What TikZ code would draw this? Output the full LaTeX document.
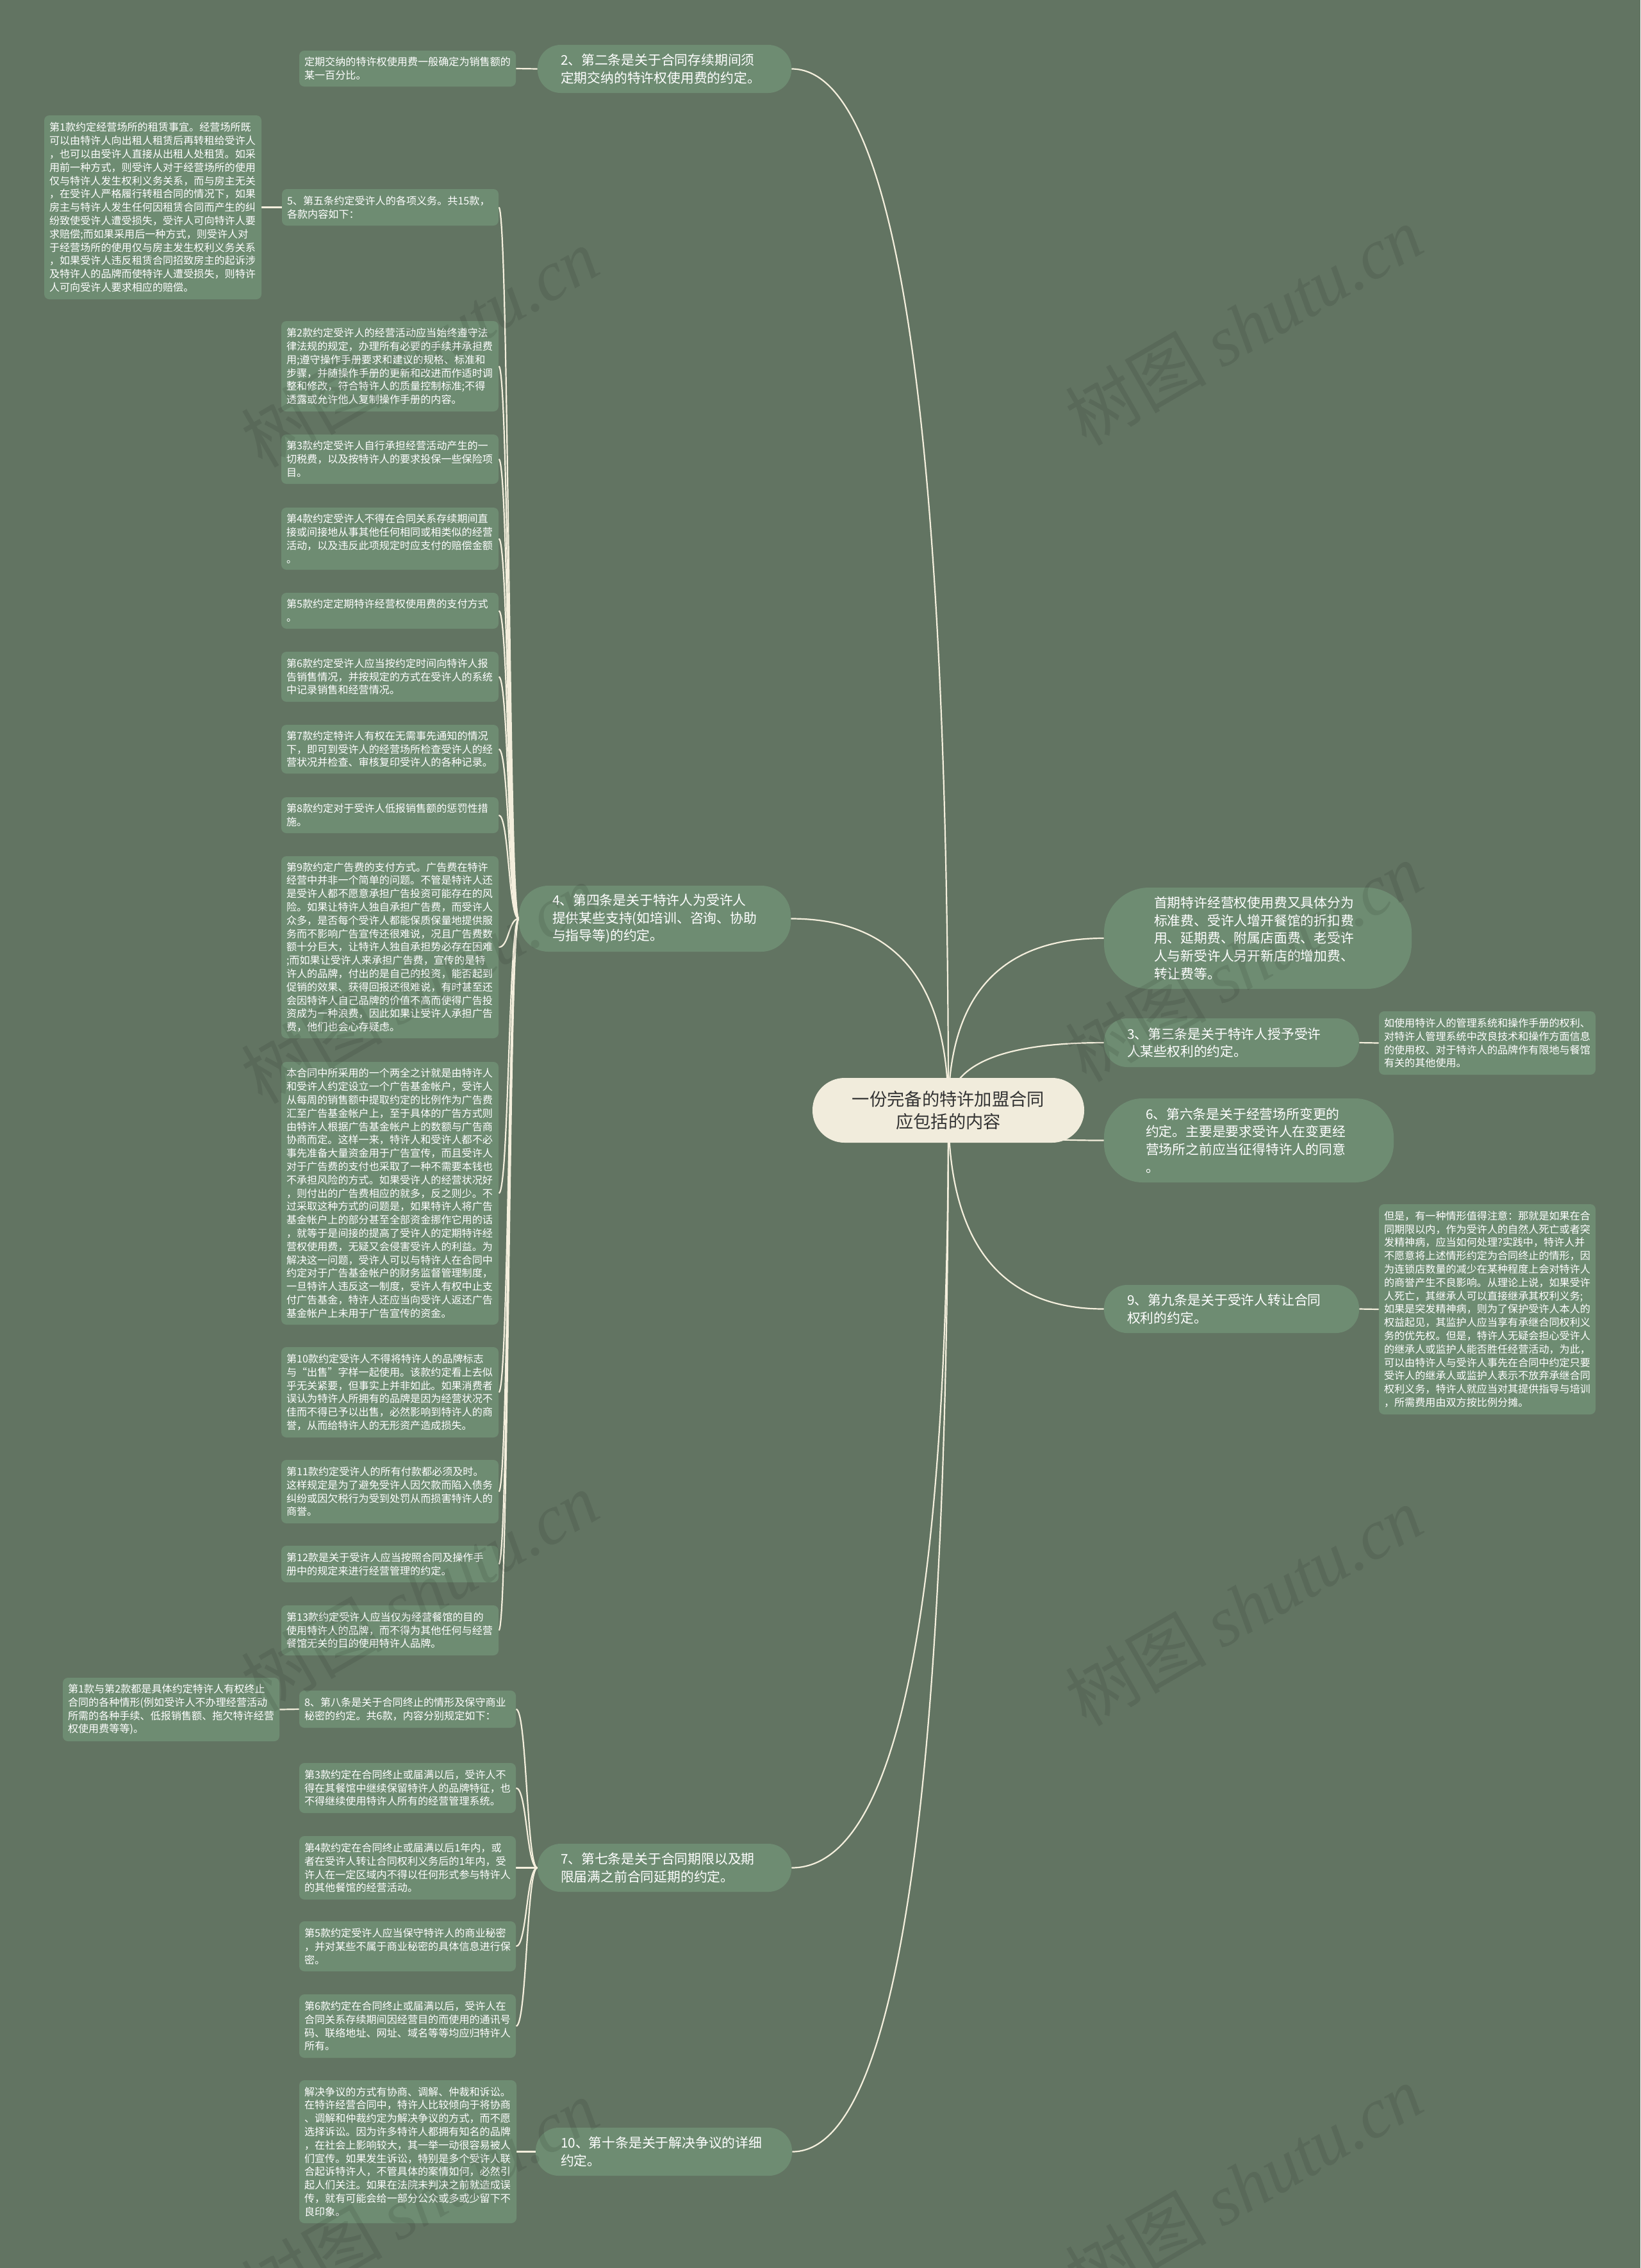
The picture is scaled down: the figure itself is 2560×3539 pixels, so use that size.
\documentclass[tikz,border=0pt]{standalone}
\usepackage{fontspec}
\setmainfont{Noto Sans CJK SC}
\newfontfamily\wmserif{Liberation Serif}
\usetikzlibrary{calc}
\definecolor{bgc}{HTML}{627462}
\definecolor{boxc}{HTML}{6E8C72}
\definecolor{rootc}{HTML}{F1ECDC}
\definecolor{linec}{HTML}{F4EFDD}
\definecolor{roottext}{HTML}{333333}
\pgfdeclarelayer{bglayer}
\pgfsetlayers{bglayer,main}
\tikzset{
  leafbox/.style={fill=boxc, text=white, align=left, inner xsep=4pt, inner ysep=2pt,
    rounded corners=4pt, font=\fontsize{8.05pt}{10.4pt}\selectfont},
  mainbox/.style={fill=boxc, text=white, align=left, inner ysep=2pt,
    font=\fontsize{10.4pt}{13.85pt}\selectfont},
  rootbox/.style={fill=rootc, text=roottext, align=center, inner sep=2pt,
    minimum width=212pt, minimum height=50.5pt, rounded corners=25pt,
    font=\fontsize{13.65pt}{17.5pt}\selectfont},
  conn/.style={draw=linec, line width=1.1pt},
  wm/.style={text=black, opacity=0.09, font=\fontsize{55pt}{60pt}\selectfont, rotate=30}
}
\newcommand\leafat[6]{%
  \pgfmathsetmacro\lw{(#4-#2)*0.5}%
  \pgfmathsetmacro\lh{(#5-#3)*0.5}%
  \pgfmathsetmacro\ltw{(#4-#2)*0.5-8}%
  \node[leafbox, minimum width=\lw pt, minimum height=\lh pt, text width=\ltw pt] (#1) at ({(#2+#4)/2},{(#3+#5)/2}) {#6};}
\newcommand\mainat[8]{%
  \pgfmathsetmacro\mw{(#4-#2)*0.5}%
  \pgfmathsetmacro\mh{(#5-#3)*0.5}%
  \pgfmathsetmacro\mtw{(#4-#2)*0.5-#6}%
  \pgfmathsetmacro\mpad{#6*0.5}%
  \pgfmathsetmacro\mr{#7*0.5}%
  \node[mainbox, minimum width=\mw pt, minimum height=\mh pt, text width=\mtw pt, inner xsep=\mpad pt, rounded corners=\mr pt] (#1) at ({(#2+#4)/2},{(#3+#5)/2}) {#8};}
\newcommand\rootcurve[1]{%
  \coordinate (qc) at (root.center |- #1);
  \draw[conn] (root.center) .. controls ($(root.center)!0.6667!(qc)$) and ($(#1)!0.6667!(qc)$) .. (#1);}
\begin{document}
\begin{tikzpicture}[x=0.5pt,y=-0.5pt]
\useasboundingbox (0,0) rectangle (2560,3539);
% root
\node[rootbox] (root) at (1480,1732.5) {一份完备的特许加盟合同\\应包括的内容};
% level 1
\mainat{n2}{839}{70}{1235}{145}{36}{36}{2、第二条是关于合同存续期间须\\定期交纳的特许权使用费的约定。}
\mainat{n4}{810}{1382}{1234}{1485}{52}{46}{4、第四条是关于特许人为受许人\\提供某些支持(如培训、咨询、协助\\与指导等)的约定。}
\mainat{n7}{839}{2877}{1235}{2952}{36}{36}{7、第七条是关于合同期限以及期\\限届满之前合同延期的约定。}
\mainat{n10}{836}{3320}{1236}{3395}{39}{36}{10、第十条是关于解决争议的详细\\约定。}
\mainat{nR1}{1723}{1385}{2203}{1543}{78}{70}{首期特许经营权使用费又具体分为\\标准费、受许人增开餐馆的折扣费\\用、延期费、附属店面费、老受许\\人与新受许人另开新店的增加费、\\转让费等。}
\mainat{n3}{1723}{1589}{2121}{1665}{36}{36}{3、第三条是关于特许人授予受许\\人某些权利的约定。}
\mainat{n6}{1723}{1714}{2175}{1845}{65}{60}{6、第六条是关于经营场所变更的\\约定。主要是要求受许人在变更经\\营场所之前应当征得特许人的同意\\。}
\mainat{n9}{1723}{2005}{2121}{2080}{36}{36}{9、第九条是关于受许人转让合同\\权利的约定。}
% leaves
\leafat{l2}{467}{79}{805}{135}{定期交纳的特许权使用费一般确定为销售额的\\某一百分比。}
\leafat{n5}{440}{295}{778}{352}{5、第五条约定受许人的各项义务。共15款，\\各款内容如下：}
\leafat{l5}{69}{180}{408}{467}{第1款约定经营场所的租赁事宜。经营场所既\\可以由特许人向出租人租赁后再转租给受许人\\，也可以由受许人直接从出租人处租赁。如采\\用前一种方式，则受许人对于经营场所的使用\\仅与特许人发生权利义务关系，而与房主无关\\，在受许人严格履行转租合同的情况下，如果\\房主与特许人发生任何因租赁合同而产生的纠\\纷致使受许人遭受损失，受许人可向特许人要\\求赔偿;而如果采用后一种方式，则受许人对\\于经营场所的使用仅与房主发生权利义务关系\\，如果受许人违反租赁合同招致房主的起诉涉\\及特许人的品牌而使特许人遭受损失，则特许\\人可向受许人要求相应的赔偿。}
\leafat{k2}{439}{501}{778}{642}{第2款约定受许人的经营活动应当始终遵守法\\律法规的规定，办理所有必要的手续并承担费\\用;遵守操作手册要求和建议的规格、标准和\\步骤，并随操作手册的更新和改进而作适时调\\整和修改，符合特许人的质量控制标准;不得\\透露或允许他人复制操作手册的内容。}
\leafat{k3}{439}{678}{778}{755}{第3款约定受许人自行承担经营活动产生的一\\切税费，以及按特许人的要求投保一些保险项\\目。}
\leafat{k4}{439}{792}{778}{889}{第4款约定受许人不得在合同关系存续期间直\\接或间接地从事其他任何相同或相类似的经营\\活动，以及违反此项规定时应支付的赔偿金额\\。}
\leafat{k5}{439}{925}{778}{981}{第5款约定定期特许经营权使用费的支付方式\\。}
\leafat{k6}{439}{1017}{778}{1095}{第6款约定受许人应当按约定时间向特许人报\\告销售情况，并按规定的方式在受许人的系统\\中记录销售和经营情况。}
\leafat{k7}{439}{1131}{778}{1207}{第7款约定特许人有权在无需事先通知的情况\\下，即可到受许人的经营场所检查受许人的经\\营状况并检查、审核复印受许人的各种记录。}
\leafat{k8}{439}{1244}{778}{1300}{第8款约定对于受许人低报销售额的惩罚性措\\施。}
\leafat{k9}{439}{1336}{778}{1620}{第9款约定广告费的支付方式。广告费在特许\\经营中并非一个简单的问题。不管是特许人还\\是受许人都不愿意承担广告投资可能存在的风\\险。如果让特许人独自承担广告费，而受许人\\众多，是否每个受许人都能保质保量地提供服\\务而不影响广告宣传还很难说，况且广告费数\\额十分巨大，让特许人独自承担势必存在困难\\;而如果让受许人来承担广告费，宣传的是特\\许人的品牌，付出的是自己的投资，能否起到\\促销的效果、获得回报还很难说，有时甚至还\\会因特许人自己品牌的价值不高而使得广告投\\资成为一种浪费，因此如果让受许人承担广告\\费，他们也会心存疑虑。}
\leafat{kb}{439}{1657}{778}{2067}{本合同中所采用的一个两全之计就是由特许人\\和受许人约定设立一个广告基金帐户，受许人\\从每周的销售额中提取约定的比例作为广告费\\汇至广告基金帐户上，至于具体的广告方式则\\由特许人根据广告基金帐户上的数额与广告商\\协商而定。这样一来，特许人和受许人都不必\\事先准备大量资金用于广告宣传，而且受许人\\对于广告费的支付也采取了一种不需要本钱也\\不承担风险的方式。如果受许人的经营状况好\\，则付出的广告费相应的就多，反之则少。不\\过采取这种方式的问题是，如果特许人将广告\\基金帐户上的部分甚至全部资金挪作它用的话\\，就等于是间接的提高了受许人的定期特许经\\营权使用费，无疑又会侵害受许人的利益。为\\解决这一问题，受许人可以与特许人在合同中\\约定对于广告基金帐户的财务监督管理制度，\\一旦特许人违反这一制度，受许人有权中止支\\付广告基金，特许人还应当向受许人返还广告\\基金帐户上未用于广告宣传的资金。}
\leafat{k10}{439}{2102}{778}{2243}{第10款约定受许人不得将特许人的品牌标志\\与“出售”字样一起使用。该款约定看上去似\\乎无关紧要，但事实上并非如此。如果消费者\\误认为特许人所拥有的品牌是因为经营状况不\\佳而不得已予以出售，必然影响到特许人的商\\誉，从而给特许人的无形资产造成损失。}
\leafat{k11}{439}{2278}{778}{2377}{第11款约定受许人的所有付款都必须及时。\\这样规定是为了避免受许人因欠款而陷入债务\\纠纷或因欠税行为受到处罚从而损害特许人的\\商誉。}
\leafat{k12}{439}{2412}{778}{2469}{第12款是关于受许人应当按照合同及操作手\\册中的规定来进行经营管理的约定。}
\leafat{k13}{439}{2505}{778}{2583}{第13款约定受许人应当仅为经营餐馆的目的\\使用特许人的品牌，而不得为其他任何与经营\\餐馆无关的目的使用特许人品牌。}
\leafat{n8}{467}{2638}{805}{2696}{8、第八条是关于合同终止的情形及保守商业\\秘密的约定。共6款，内容分别规定如下：}
\leafat{l8}{98}{2618}{436}{2717}{第1款与第2款都是具体约定特许人有权终止\\合同的各种情形(例如受许人不办理经营活动\\所需的各种手续、低报销售额、拖欠特许经营\\权使用费等等)。}
\leafat{m3}{467}{2751}{805}{2829}{第3款约定在合同终止或届满以后，受许人不\\得在其餐馆中继续保留特许人的品牌特征，也\\不得继续使用特许人所有的经营管理系统。}
\leafat{m4}{467}{2865}{805}{2964}{第4款约定在合同终止或届满以后1年内，或\\者在受许人转让合同权利义务后的1年内，受\\许人在一定区域内不得以任何形式参与特许人\\的其他餐馆的经营活动。}
\leafat{m5}{467}{2998}{805}{3076}{第5款约定受许人应当保守特许人的商业秘密\\，并对某些不属于商业秘密的具体信息进行保\\密。}
\leafat{m6}{467}{3112}{805}{3211}{第6款约定在合同终止或届满以后，受许人在\\合同关系存续期间因经营目的而使用的通讯号\\码、联络地址、网址、域名等等均应归特许人\\所有。}
\leafat{l10}{467}{3246}{806}{3469}{解决争议的方式有协商、调解、仲裁和诉讼。\\在特许经营合同中，特许人比较倾向于将协商\\、调解和仲裁约定为解决争议的方式，而不愿\\选择诉讼。因为许多特许人都拥有知名的品牌\\，在社会上影响较大，其一举一动很容易被人\\们宣传。如果发生诉讼，特别是多个受许人联\\合起诉特许人，不管具体的案情如何，必然引\\起人们关注。如果在法院未判决之前就造成误\\传，就有可能会给一部分公众或多或少留下不\\良印象。}
\leafat{l3}{2152}{1578}{2490}{1677}{如使用特许人的管理系统和操作手册的权利、\\对特许人管理系统中改良技术和操作方面信息\\的使用权、对于特许人的品牌作有限地与餐馆\\有关的其他使用。}
\leafat{l9}{2152}{1879}{2490}{2207}{但是，有一种情形值得注意：那就是如果在合\\同期限以内，作为受许人的自然人死亡或者突\\发精神病，应当如何处理?实践中，特许人并\\不愿意将上述情形约定为合同终止的情形，因\\为连锁店数量的减少在某种程度上会对特许人\\的商誉产生不良影响。从理论上说，如果受许\\人死亡，其继承人可以直接继承其权利义务;\\如果是突发精神病，则为了保护受许人本人的\\权益起见，其监护人应当享有承继合同权利义\\务的优先权。但是，特许人无疑会担心受许人\\的继承人或监护人能否胜任经营活动，为此，\\可以由特许人与受许人事先在合同中约定只要\\受许人的继承人或监护人表示不放弃承继合同\\权利义务，特许人就应当对其提供指导与培训\\，所需费用由双方按比例分摊。}
% connectors
\begin{pgfonlayer}{bglayer}
\fill[bgc] (0,0) rectangle (2560,3539);
\rootcurve{n2.east}
\rootcurve{n4.east}
\rootcurve{n7.east}
\rootcurve{n10.east}
\rootcurve{nR1.west}
\rootcurve{n3.west}
\rootcurve{n6.west}
\rootcurve{n9.west}
\foreach \c in {n5,k2,k3,k4,k5,k6,k7,k8,k9,kb,k10,k11,k12,k13}
  \draw[conn] (n4.west) .. controls +(-16,0) and +(16,0) .. (\c.east);
\foreach \c in {n8,m3,m4,m5,m6}
  \draw[conn] (n7.west) .. controls +(-17,0) and +(17,0) .. (\c.east);
\draw[conn] (n2.west) -- (l2.east);
\draw[conn] (n5.west) -- (l5.east);
\draw[conn] (n8.west) -- (l8.east);
\draw[conn] (n10.west) -- (l10.east);
\draw[conn] (n3.east) -- (l3.west);
\draw[conn] (n9.east) -- (l9.west);
\end{pgfonlayer}
% watermarks
\foreach \p/\q in {655/542, 1941/508, 655/1535, 1941/1501, 655/2483, 1941/2506, 655/3431, 1941/3409}
  \node[wm] at (\p,\q) {树图 {\wmserif\itshape shutu.cn}};
\end{tikzpicture}
\end{document}
